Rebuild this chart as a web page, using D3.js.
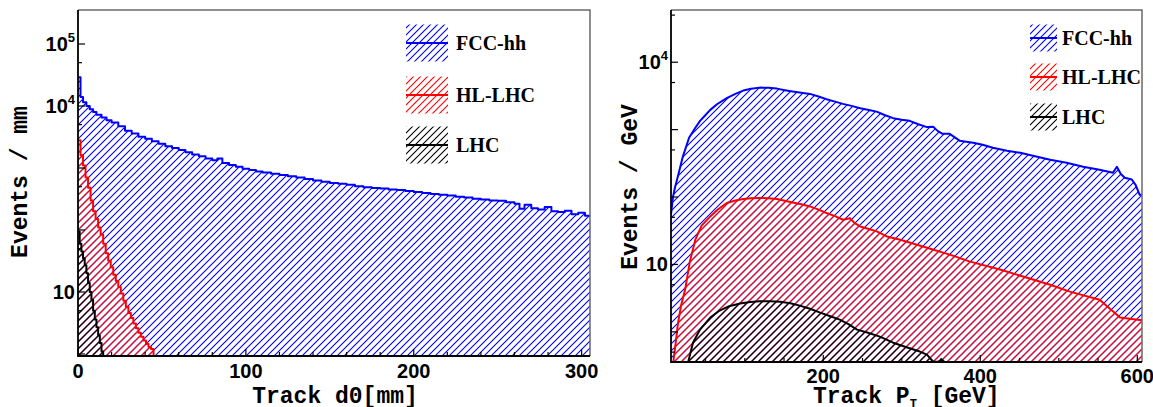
<!DOCTYPE html>
<html>
<head>
<meta charset="utf-8">
<script src="https://cdn.jsdelivr.net/npm/d3@7"></script>
<style>
  body { margin: 0; background: #fff; }
  svg { display: block; }
</style>
</head>
<body>
<svg id="chart" width="1153" height="407"></svg>
<script>
// ===== 데이터 =====
const seriesNames = ['FCC-hh', 'HL-LHC', 'LHC'];
const seriesColors = ['#0000ff', '#ff0000', '#000000'];

// 왼쪽: Track d0 [mm] 히스토그램 (bin 시작 위치, 값)
const fccD0X = [0, 1.5, 3, 5, 7, 9, 11, 14, 17, 20, 24, 28, 32, 36, 40, 44, 48, 52, 56, 60,
  64, 68, 72, 76, 80, 83, 86, 90, 94, 98, 102, 106, 110, 115, 120, 125, 130, 135, 140, 145,
  150, 155, 160, 165, 170, 175, 180, 185, 190, 195, 200, 205, 210, 215, 220, 225, 230, 235,
  240, 245, 250, 255, 260, 263, 266, 270, 274, 278, 282, 286, 290, 294, 298, 302, 305];
const fccD0Y = [29000, 14000, 11500, 10000, 8900, 8000, 7200, 6500, 5900, 5400, 4700, 4000, 3600,
  3200, 2950, 2700, 2450, 2250, 2100, 1950, 1800, 1650, 1550, 1420, 1330, 1420, 1200, 1120, 1050,
  970, 930, 880, 850, 810, 770, 735, 700, 665, 630, 600, 575, 555, 535, 510, 490, 475, 465, 450,
  440, 425, 410, 395, 380, 370, 360, 345, 335, 320, 310, 300, 295, 280, 265, 220, 255, 225, 215,
  235, 200, 195, 205, 180, 190, 170, 170];
const hlD0X = [0, 1.5, 3, 4.5, 6, 7.5, 9, 10.5, 12, 13.5, 15, 16.5, 18, 19.5, 21, 22.5, 24, 25.5,
  27, 28.5, 30, 31.5, 33, 34.5, 36, 37.5, 39, 40.5, 42, 43.5, 45];
const hlD0Y = [2800, 1600, 1100, 700, 480, 300, 200, 150, 110, 85, 60, 42, 32, 25, 19, 15, 12, 9.5,
  7.2, 5.8, 4.6, 3.8, 3.1, 2.6, 2.2, 1.9, 1.65, 1.45, 1.3, 1.2, 0];
const lhcD0X = [0, 1, 2, 3, 4, 5, 6, 7, 8, 9, 10, 11, 12, 13, 14, 15];
const lhcD0Y = [95, 60, 45, 35, 27, 20, 14, 10, 7.5, 5, 3.6, 2.7, 2, 1.5, 1.1, 0];

// 오른쪽: Track pT [GeV]
const fccPtX = [6, 8.5, 11, 15, 21, 29, 37, 43, 50, 56, 65, 77, 88, 98, 108, 119, 130, 141, 151,
  161, 172, 183, 194, 204, 215, 225, 236, 247, 258, 268, 278, 289, 300, 310, 321, 332, 340, 346,
  352, 361, 368, 374, 382, 391, 403, 416, 434, 451, 467, 489, 510, 531, 552, 569, 574, 579, 584,
  593, 598, 603, 606];
const fccPtY = [55, 100, 137, 207, 395, 757, 1064, 1350, 1650, 1965, 2400, 2930, 3400, 3800, 4050,
  4200, 4180, 4060, 3850, 3670, 3520, 3390, 3100, 2830, 2600, 2410, 2250, 2080, 1950, 1850, 1650,
  1480, 1400, 1350, 1200, 1090, 1100, 950, 867, 867, 760, 682, 660, 637, 596, 537, 485, 453, 409,
  357, 322, 281, 254, 229, 281, 220, 193, 182, 150, 108, 108];
const hlPtX = [9, 11, 15, 19, 24, 30, 37, 45, 56, 66, 77, 88, 98, 108, 119, 130, 141, 151, 161,
  172, 183, 194, 204, 215, 225, 234, 240, 247, 258, 268, 281, 298, 330, 361, 387, 425, 489, 514,
  552, 578, 603, 606];
const hlPtY = [0.36, 0.55, 1.37, 2.5, 4.24, 11, 23.3, 37.6, 51.6, 66, 81.5, 89, 93.4, 96, 96.7, 96,
  93.4, 88, 83.2, 78, 72.6, 65, 58, 52, 46, 48.5, 41, 36.6, 33.5, 30.9, 26, 23.3, 18, 14, 11, 8.4,
  5, 3.95, 3, 1.63, 1.5, 1.5];
const lhcPtX = [28, 34, 43, 50, 56, 68, 80, 94, 107, 119, 132, 145, 158, 170, 183, 196, 208, 221,
  232, 243, 256, 272, 289, 307, 323, 332, 340, 346, 351, 354];
const lhcPtY = [0.36, 0.69, 1.08, 1.35, 1.63, 2.07, 2.4, 2.63, 2.78, 2.84, 2.84, 2.8, 2.65, 2.45,
  2.2, 1.93, 1.72, 1.52, 1.3, 1.08, 0.98, 0.85, 0.69, 0.585, 0.51, 0.46, 0.36, 0.36, 0.39, 0.36];

// 축 눈금 라벨
const d0TickLabels = [0, 100, 200, 300];
const ptTickLabels = [200, 400, 600];
const d0YLabels = [10, 1e4, 1e5];
const ptYLabels = [10, 1e4];

const svg = d3.select('#chart');
const defs = svg.append('defs');

// 빗금 패턴 (ROOT 스타일 hatch)
function addHatch(id, color) {
  const p = defs.append('pattern')
    .attr('id', id)
    .attr('patternUnits', 'userSpaceOnUse')
    .attr('width', 7).attr('height', 7);
  p.append('path')
    .attr('d', 'M-1,1 L1,-1 M0,7 L7,0 M6,8 L8,6')
    .attr('stroke', color)
    .attr('stroke-width', 1.1)
    .attr('fill', 'none');
}
seriesColors.forEach((c, i) => addHatch('hatch' + i, c));

const zip = (xs, ys) => xs.map((x, i) => [x, ys[i]]);

function drawPanel(cfg) {
  const { left, right, top, bottom } = cfg.box;
  const x = d3.scaleLinear().domain(cfg.xDomain).range([left, right]);
  const y = d3.scaleLog().domain(cfg.yDomain).range([bottom, top]);
  const yv = v => y(Math.max(v, cfg.yDomain[0]));

  const g = svg.append('g');
  const clipId = 'clip-' + cfg.id;
  defs.append('clipPath').attr('id', clipId)
    .append('rect').attr('x', left).attr('y', top)
    .attr('width', right - left).attr('height', bottom - top);

  const plot = g.append('g').attr('clip-path', `url(#${clipId})`);
  const curve = cfg.step ? d3.curveStepAfter : d3.curveLinear;

  cfg.series.forEach((s, i) => {
    const area = d3.area().curve(curve)
      .x(d => x(d[0])).y0(bottom).y1(d => yv(d[1]));
    const line = d3.line().curve(curve)
      .x(d => x(d[0])).y(d => yv(d[1]));
    plot.append('path').attr('d', area(s)).attr('fill', `url(#hatch${i})`);
    plot.append('path').attr('d', line(s))
      .attr('fill', 'none').attr('stroke', seriesColors[i])
      .attr('stroke-width', 2).attr('stroke-linejoin', 'round');
  });

  // 프레임 (위/오른쪽 회색)
  g.append('path')
    .attr('d', `M${left},${top}H${right}V${bottom}`)
    .attr('fill', 'none').attr('stroke', '#6a6a6a').attr('stroke-width', 1.5);

  // y 눈금: 10^k, 5*10^k
  const yTicks = [];
  for (let k = -1; k <= 6; k++) {
    [1, 5].forEach(m => {
      const v = m * Math.pow(10, k);
      if (v >= cfg.yDomain[0] && v <= cfg.yDomain[1]) yTicks.push({ v, major: m === 1 });
    });
  }
  g.selectAll('.ytick').data(yTicks).enter().append('line')
    .attr('x1', left).attr('x2', d => left + (d.major ? 7 : 4))
    .attr('y1', d => y(d.v)).attr('y2', d => y(d.v))
    .attr('stroke', '#000').attr('stroke-width', 1.2);

  // x 눈금
  const xMinor = d3.range(Math.ceil(cfg.xDomain[0] / cfg.minorStep) * cfg.minorStep, cfg.xDomain[1], cfg.minorStep);
  g.selectAll('.xminor').data(xMinor).enter().append('line')
    .attr('x1', d => x(d)).attr('x2', d => x(d))
    .attr('y1', bottom).attr('y2', d => bottom - (cfg.xLabels.includes(d) ? 7 : 4))
    .attr('stroke', '#000').attr('stroke-width', 1.2);

  // 축선
  g.append('path')
    .attr('d', `M${left},${top}V${bottom}H${right}`)
    .attr('fill', 'none').attr('stroke', '#000').attr('stroke-width', 1.8);

  // x 라벨
  g.selectAll('.xlab').data(cfg.xLabels).enter().append('text')
    .attr('x', d => x(d)).attr('y', cfg.xLabelY)
    .attr('text-anchor', 'middle')
    .attr('font-family', 'Liberation Sans, Arial, sans-serif')
    .attr('font-weight', 'bold').attr('font-size', 20)
    .text(d => d);

  // y 라벨 (10, 10^k)
  cfg.yLabels.forEach(v => {
    const k = Math.round(Math.log10(v));
    const t = g.append('text')
      .attr('x', left - 3).attr('y', y(v) + 7)
      .attr('text-anchor', 'end')
      .attr('font-family', 'Liberation Sans, Arial, sans-serif')
      .attr('font-weight', 'bold').attr('font-size', 20);
    t.append('tspan').text('10');
    if (k !== 1) {
      t.append('tspan').attr('font-size', 13).attr('dy', -9).text(k);
    }
  });

  // 축 제목
  const mono = 'Liberation Mono, Courier New, monospace';
  const xt = g.append('text')
    .attr('x', cfg.xTitleX).attr('y', 403)
    .attr('text-anchor', cfg.xTitleAnchor)
    .attr('font-family', mono).attr('font-weight', 'bold').attr('font-size', 23);
  cfg.xTitle(xt);

  g.append('text')
    .attr('transform', `translate(${cfg.yTitlePos[0]},${cfg.yTitlePos[1]}) rotate(-90)`)
    .attr('text-anchor', 'middle')
    .attr('font-family', mono).attr('font-weight', 'bold').attr('font-size', 23)
    .text(cfg.yTitle);

  // 범례
  const lg = cfg.legend;
  seriesNames.forEach((name, i) => {
    const cy = lg.ys[i];
    g.append('rect')
      .attr('x', lg.x).attr('y', cy - lg.h / 2)
      .attr('width', lg.w).attr('height', lg.h)
      .attr('fill', `url(#hatch${i})`);
    g.append('line')
      .attr('x1', lg.x).attr('x2', lg.x + lg.w)
      .attr('y1', cy).attr('y2', cy)
      .attr('stroke', seriesColors[i]).attr('stroke-width', 2);
    g.append('text')
      .attr('x', lg.x + lg.w + lg.gap).attr('y', cy + 7)
      .attr('font-family', 'Liberation Serif, Times New Roman, serif')
      .attr('font-weight', 'bold').attr('font-size', 20)
      .text(name);
  });
}

// 왼쪽 패널: Track d0
drawPanel({
  id: 'd0',
  box: { left: 78, right: 590, top: 10, bottom: 356 },
  xDomain: [0, 305],
  yDomain: [Math.pow(10, 1 - 64 / 62), Math.pow(10, 1 + 282 / 62)],
  step: true,
  series: [zip(fccD0X, fccD0Y), zip(hlD0X, hlD0Y), zip(lhcD0X, lhcD0Y)],
  xLabels: d0TickLabels,
  minorStep: 20,
  xLabelY: 378,
  yLabels: d0YLabels,
  xTitleX: 335,
  xTitleAnchor: 'middle',
  xTitle: t => t.text('Track d0[mm]'),
  yTitle: 'Events / mm',
  yTitlePos: [27, 182],
  legend: { x: 406, w: 42, h: 37, gap: 8, ys: [43, 95, 145] }
});

// 오른쪽 패널: Track pT
drawPanel({
  id: 'pt',
  box: { left: 671, right: 1142, top: 10, bottom: 362 },
  xDomain: [6, 606],
  yDomain: [Math.pow(10, 4 - 300.2 / 67.5), Math.pow(10, 4 + 52.3 / 67.5)],
  step: false,
  series: [zip(fccPtX, fccPtY), zip(hlPtX, hlPtY), zip(lhcPtX, lhcPtY)],
  xLabels: ptTickLabels,
  minorStep: 50,
  xLabelY: 383,
  yLabels: ptYLabels,
  xTitleX: 813,
  xTitleAnchor: 'start',
  xTitle: t => {
    t.append('tspan').text('Track P');
    t.append('tspan').attr('font-size', 12).attr('dy', 5).text('T');
    t.append('tspan').attr('dy', -5).text(' [GeV]');
  },
  yTitle: 'Events / GeV',
  yTitlePos: [637, 187],
  legend: { x: 1030, w: 27, h: 27, gap: 5, ys: [38, 77, 117] }
});
</script>
</body>
</html>
